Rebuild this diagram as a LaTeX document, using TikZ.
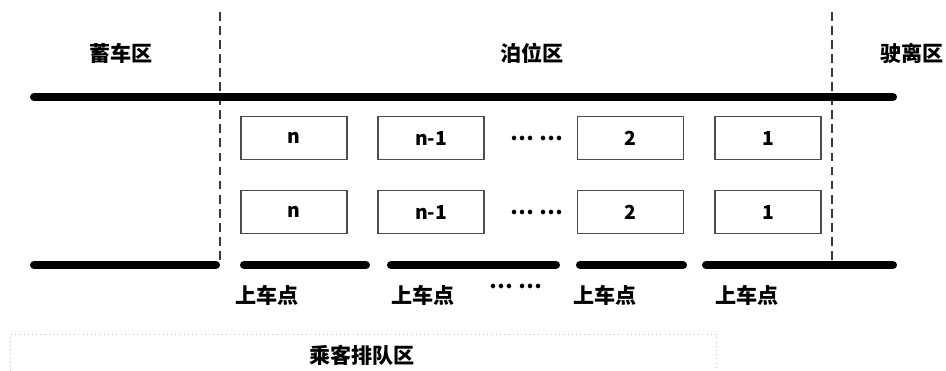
\documentclass[tikz,border=0pt]{standalone}
\usepackage{fontspec}
\setmainfont{Noto Sans CJK SC}
\usetikzlibrary{positioning}

\tikzset{
  rail/.style={line width=4.6pt, line cap=round},
  zone/.style={draw=gray!45!black, dash pattern=on 5pt off 3pt, line width=1pt},
  bay/.style={draw=gray!60!black, line width=0.6pt, minimum width=2.12cm, minimum height=0.86cm,
    font=\bfseries\fontsize{11}{13}\selectfont},
  queue/.style={draw=gray!50, dotted, line width=0.4pt},
}

\begin{document}
\begin{tikzpicture}[x=0.02cm, y=-0.02cm, font=\bfseries\fontsize{12}{14}\selectfont]
            \useasboundingbox (0,0) rectangle (946,371);

            % zone labels
            \node (store) at (121,53) {蓄车区};
            \node (berth) at (532,53) {泊位区};
            \node (leave) at (912,53) {驶离区};

            % zone borders
            \coordinate (zl1) at (220,12);
            \coordinate (zl2) at (220,262);
            \coordinate (zr1) at (832,12);
            \coordinate (zr2) at (832,262);
            \draw [zone] (zl1) -- (zl2);
            \draw [zone] (zr1) -- (zr2);

            % top rail
            \coordinate (topL) at (34,97);
            \coordinate (topR) at (893,97);
            \draw [rail] (topL) -- (topR);

            % berths
            \foreach \y/\r in {138/a, 212/b} {
                \node [bay] (n\r) at (294,\y) {n};
                \node [bay] (m\r) at (431,\y) {n-1};
                \node (dots\r) at (537,\y) {… …};
                \node [bay] (two\r) at (630.5,\y) {2};
                \node [bay] (one\r) at (768,\y) {1};
            }

            % bottom rail
            \foreach \a/\b/\k in {34/216/0, 244/366/1, 391/556/2, 580/683/3, 706/893/4} {
                \coordinate (bl\k) at (\a,265);
                \coordinate (br\k) at (\b,265);
                \draw [rail] (bl\k) -- (br\k);
            }

            % boarding points
            \node (p1) at (267,295) {上车点};
            \node (p2) at (423,295) {上车点};
            \node (pd) at (516,286) {… …};
            \node (p3) at (605,295) {上车点};
            \node (p4) at (747,295) {上车点};

            % queue area
            \draw [queue] (10,371) -- (10,334) -- (716,334) -- (716,371);
            \node (wait) at (362,355) {乘客排队区};
        \end{tikzpicture}
\end{document}
